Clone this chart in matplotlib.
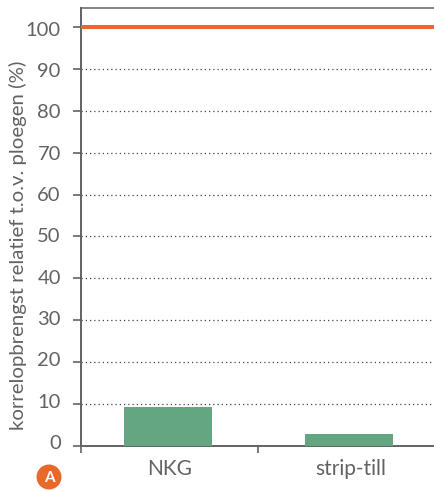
import numpy as np
import matplotlib
matplotlib.use('Agg')
import matplotlib.pyplot as plt
from matplotlib.patches import Ellipse
from matplotlib.transforms import ScaledTranslation

categories = ['NKG', 'strip-till']
values = [9.3, 2.9]
yticks = [0, 10, 20, 30, 40, 50, 60, 70, 80, 90, 100]
reference = 100

W, H = 434, 490
grey = '#616264'

plt.rcParams['font.family'] = ['Lato', 'DejaVu Sans']

fig = plt.figure(figsize=(W / 100, H / 100), dpi=100)
ax = fig.add_axes([81 / W, 1 - 446 / H, (W - 81) / W, (446 - 8) / H])

x = np.arange(len(categories))
ax.bar(x, values, width=0.486, color='#64a682', zorder=3)
ax.axhline(reference, color='#e8692a', lw=2.9, zorder=4)

ax.set_xlim(-0.48, 1.47)
ax.set_ylim(0, 104.5)

# dotted grid, skipping the 0 and 100 lines
for v in yticks[1:-1]:
    ax.axhline(v, color='#444444', lw=0.9, ls=(0, (1, 2.4)), zorder=1)

ax.set_yticks(yticks)
ax.set_yticklabels(yticks, fontsize=14.5, color=grey)
ax.tick_params(axis='y', length=6, width=1.2, color=grey, pad=8.5)

# in the original the labels drift a little against the ticks
for v, lab in zip(yticks, ax.get_yticklabels()):
    shift = (4 - 0.06 * v) / 100
    lab.set_transform(lab.get_transform() + ScaledTranslation(0, shift, fig.dpi_scale_trans))

# ticks sit between the categories, labels under the bars
ax.set_xticks([-0.48, 0.497])
ax.set_xticklabels([])
ax.tick_params(axis='x', length=5, width=1.2, color=grey)
for xi, c in zip(x, categories):
    ax.annotate(c, (xi, 0), xytext=(1, -9), textcoords='offset points', ha='center',
                va='top', fontsize=15, color=grey, annotation_clip=False)

for s in ['left', 'bottom', 'top']:
    ax.spines[s].set_color(grey)
    ax.spines[s].set_linewidth(1.4)
ax.spines['top'].set_linewidth(1.1)
ax.spines['right'].set_visible(False)

fig.text(18 / W, 1 - 245 / H, 'korrelopbrengst relatief t.o.v. ploegen (%)', rotation=90,
         ha='center', va='center', fontsize=14.7, color=grey)

# round "A" badge under the axis
fig.add_artist(Ellipse((49 / W, 1 - 477 / H), 25 / W, 25 / H, transform=fig.transFigure,
                       color='#e8692a', lw=0))
fig.text(49 / W, 1 - 477.5 / H, 'A', ha='center', va='center', fontsize=11,
         fontweight='bold', color='white')

fig.savefig('out.png', dpi=100)
